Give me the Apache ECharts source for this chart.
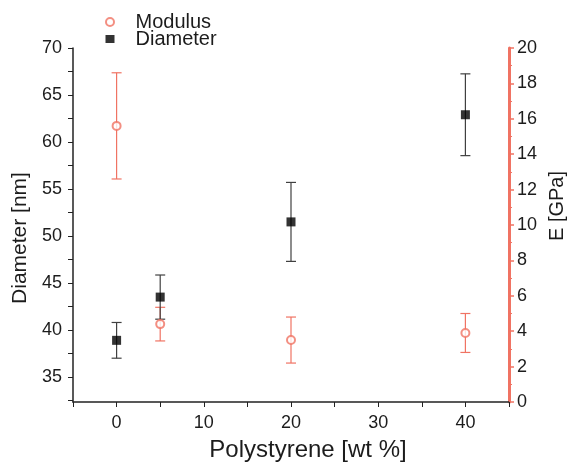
<!DOCTYPE html>
<html>
<head>
<meta charset="utf-8">
<script src="https://cdn.jsdelivr.net/npm/echarts@6/dist/echarts.min.js"></script>
<style>
    html, body { margin: 0; padding: 0; background: #fff; }
    #chart { width: 569px; height: 463px; }
</style>
</head>
<body>
<div id="chart"></div>
<script>
// wt % polystyrene
const xValues = [0, 5, 20, 40];
// fibre diameter [nm] and its error
const diameter = [38.9, 43.5, 51.5, 62.9];
const diameterErr = [1.9, 2.35, 4.2, 4.35];
// modulus E [GPa] and its error
const modulus = [15.6, 4.4, 3.5, 3.9];
const modulusErr = [3.0, 0.95, 1.3, 1.1];

const leftLabels = [35, 40, 45, 50, 55, 60, 65, 70];
const leftTicks = [32.5, 35, 37.5, 40, 42.5, 45, 47.5, 50, 52.5, 55, 57.5, 60, 62.5, 65, 67.5, 70];

const RED = "#f07363";
const TEXT = "#1c1c1c";
const FONT = "Liberation Sans, Arial, sans-serif";

const chart = echarts.init(document.getElementById("chart"));

const errRender = (color) => (params, api) => {
    const x = api.value(0);
    const lo = api.coord([x, api.value(1)]);
    const hi = api.coord([x, api.value(2)]);
    const w = 5;
    const style = { stroke: color, lineWidth: 1.2 };
    return {
        type: "group",
        children: [
            { type: "line", shape: { x1: lo[0], y1: lo[1], x2: hi[0], y2: hi[1] }, style },
            { type: "line", shape: { x1: lo[0] - w, y1: lo[1], x2: lo[0] + w, y2: lo[1] }, style },
            { type: "line", shape: { x1: hi[0] - w, y1: hi[1], x2: hi[0] + w, y2: hi[1] }, style },
        ],
    };
};

chart.setOption({
    animation: false,
    textStyle: { fontFamily: FONT },
    grid: { left: 73, right: 60, top: 48, bottom: 61, outerBoundsMode: "none" },
    legend: {
        orient: "vertical",
        left: 100,
        top: 7,
        itemGap: -3,
        itemWidth: 9,
        itemHeight: 8,
        textStyle: { fontSize: 20, color: TEXT, fontFamily: FONT, padding: [0, 0, 0, 16] },
        data: ["Modulus", "Diameter"],
    },
    xAxis: {
        type: "value",
        min: -5,
        max: 45,
        interval: 5,
        name: "Polystyrene [wt %]",
        nameLocation: "middle",
        nameGap: 36,
        nameTextStyle: { fontSize: 24, color: TEXT, padding: [0, 0, 0, 34] },
        axisLine: { onZero: false, lineStyle: { color: "#222", width: 1.5 } },
        axisTick: { length: 5, lineStyle: { color: "#222" } },
        axisLabel: {
            fontSize: 18,
            color: TEXT,
            margin: 12,
            formatter: (v) => (v % 10 === 0 && v >= 0 && v <= 40 ? String(v) : ""),
        },
        splitLine: { show: false },
    },
    yAxis: [
        {
            type: "value",
            min: 32.34,
            max: 70,
            name: "Diameter [nm]",
            nameLocation: "middle",
            nameRotate: 90,
            nameGap: 37,
            nameTextStyle: { fontSize: 21, color: TEXT, padding: [0, 26, 0, 0] },
            axisLine: { show: true, onZero: false, lineStyle: { color: "#222", width: 1.5 } },
            axisTick: { length: 5, customValues: leftTicks, lineStyle: { color: "#222" } },
            axisLabel: { fontSize: 18, color: TEXT, margin: 11, customValues: leftLabels },
            splitLine: { show: false },
        },
        {
            type: "value",
            position: "right",
            min: 0,
            max: 20,
            interval: 2,
            name: "E [GPa]",
            nameLocation: "middle",
            nameRotate: 90,
            nameGap: 38,
            nameTextStyle: { fontSize: 20, color: TEXT, padding: [0, 0, 0, 38] },
            axisLine: { show: true, onZero: false, lineStyle: { color: RED, width: 3 } },
            axisTick: { length: 5, lineStyle: { color: RED, width: 1.5 } },
            minorTick: { show: true, splitNumber: 2, length: 3, lineStyle: { color: RED } },
            axisLabel: { fontSize: 18, color: TEXT, margin: 8 },
            splitLine: { show: false },
        },
    ],
    series: [
        {
            name: "Modulus err",
            type: "custom",
            yAxisIndex: 1,
            renderItem: errRender(RED),
            encode: { x: 0, y: [1, 2] },
            data: xValues.map((x, i) => [x, modulus[i] - modulusErr[i], modulus[i] + modulusErr[i]]),
            z: 1,
        },
        {
            name: "Diameter err",
            type: "custom",
            yAxisIndex: 0,
            renderItem: errRender("#404040"),
            encode: { x: 0, y: [1, 2] },
            data: xValues.map((x, i) => [x, diameter[i] - diameterErr[i], diameter[i] + diameterErr[i]]),
            z: 2,
        },
        {
            name: "Modulus",
            type: "scatter",
            yAxisIndex: 1,
            symbol: "emptyCircle",
            symbolSize: 8,
            itemStyle: { color: RED, borderColor: RED, borderWidth: 2 },
            data: xValues.map((x, i) => [x, modulus[i]]),
            z: 3,
        },
        {
            name: "Diameter",
            type: "scatter",
            yAxisIndex: 0,
            symbol: "rect",
            symbolSize: 9,
            itemStyle: { color: "#000" },
            data: xValues.map((x, i) => [x, diameter[i]]),
            z: 4,
        },
    ],
});
</script>
</body>
</html>
